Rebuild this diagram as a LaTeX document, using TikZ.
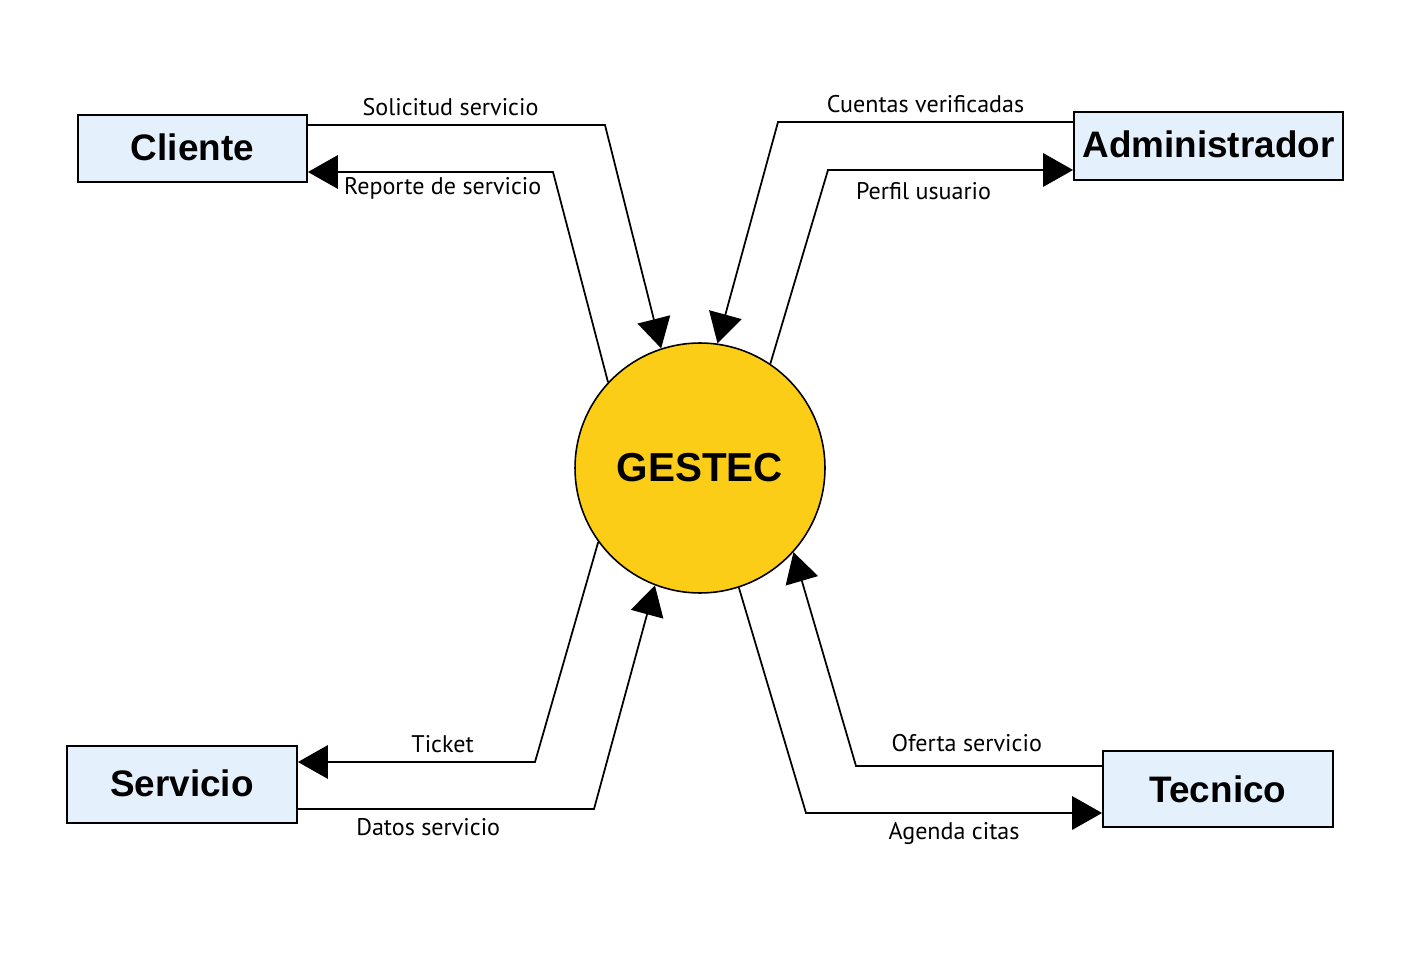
\documentclass[tikz,border=0pt]{standalone}
\usepackage{fontspec}
\setmainfont{PT Sans}
\newfontfamily\boxfont{Liberation Sans}
\usepackage{xcolor}
\usetikzlibrary{arrows.meta}
\definecolor{entityblue}{RGB}{228,240,252}
\definecolor{gestecyellow}{RGB}{252,205,23}

\begin{document}
\begin{tikzpicture}[
  x=0.02cm,y=-0.02cm,
  entity/.style={draw,line width=1.1pt,fill=entityblue,minimum width=4.6cm,inner sep=0pt,
    font=\boxfont\fontsize{21}{24}\selectfont\bfseries},
  process/.style={draw,circle,line width=0.9pt,fill=gestecyellow,minimum size=5cm,inner sep=0pt,
    font=\boxfont\fontsize{23}{26}\selectfont\bfseries},
  flow/.style={line width=1pt,-{Triangle[length=17pt,width=19pt]}},
  lbl/.style={font=\fontsize{13.7}{15}\selectfont,inner sep=4.7pt}
]
\useasboundingbox (0,0) rectangle (1413,979);
% entidades externas
\node[entity,minimum width=4.58cm,minimum height=1.34cm] (cli) at (192.5,148.5) {\raisebox{2pt}{Cliente}};
\node[entity,minimum width=5.38cm,minimum height=1.36cm] (adm) at (1208.5,146) {\raisebox{2pt}{Administrador}};
\node[entity,minimum height=1.54cm] (ser) at (182,784.5) {\raisebox{2pt}{Servicio}};
\node[entity,minimum height=1.52cm] (tec) at (1218,789) {Tecnico};
% proceso
\node[process] (ges) at (700,468) {GESTEC};
% puntos de quiebre
\coordinate (sol) at (605,125);
\coordinate (rep) at (553,172);
\coordinate (cue) at (778,122);
\coordinate (per) at (828,170);
\coordinate (tic) at (535,762);
\coordinate (dat) at (594,809);
\coordinate (ofe) at (856,766);
\coordinate (age) at (806,813);
% flujos
\draw[flow] (cli.east |- sol) -- node[lbl,above,pos=0.48] {Solicitud servicio} (sol) -- (ges.108);
\draw[flow] (ges.137) -- (rep) -- node[lbl,below,pos=0.45,inner sep=2.7pt] {Reporte de servicio} (cli.east |- rep);
\draw[flow] (adm.west |- cue) -- node[lbl,above] {Cuentas verificadas} (cue) -- (ges.82);
\draw[flow] (ges.56) -- (per) -- node[lbl,below,pos=0.39,inner sep=6.4pt] {Perfil usuario} (adm.west |- per);
\draw[flow] (ges.216) -- (tic) -- node[lbl,above,pos=0.39] {Ticket} (ser.east |- tic);
\draw[flow] (ser.east |- dat) -- node[lbl,below,pos=0.44] {Datos servicio} (dat) -- (ges.249);
\draw[flow] (tec.west |- ofe) -- node[lbl,above,pos=0.55,inner sep=7.5pt] {Oferta servicio} (ofe) -- (ges.318);
\draw[flow] (ges.288) -- (age) -- node[lbl,below,pos=0.5] {Agenda citas} (tec.west |- age);
\end{tikzpicture}
\end{document}
